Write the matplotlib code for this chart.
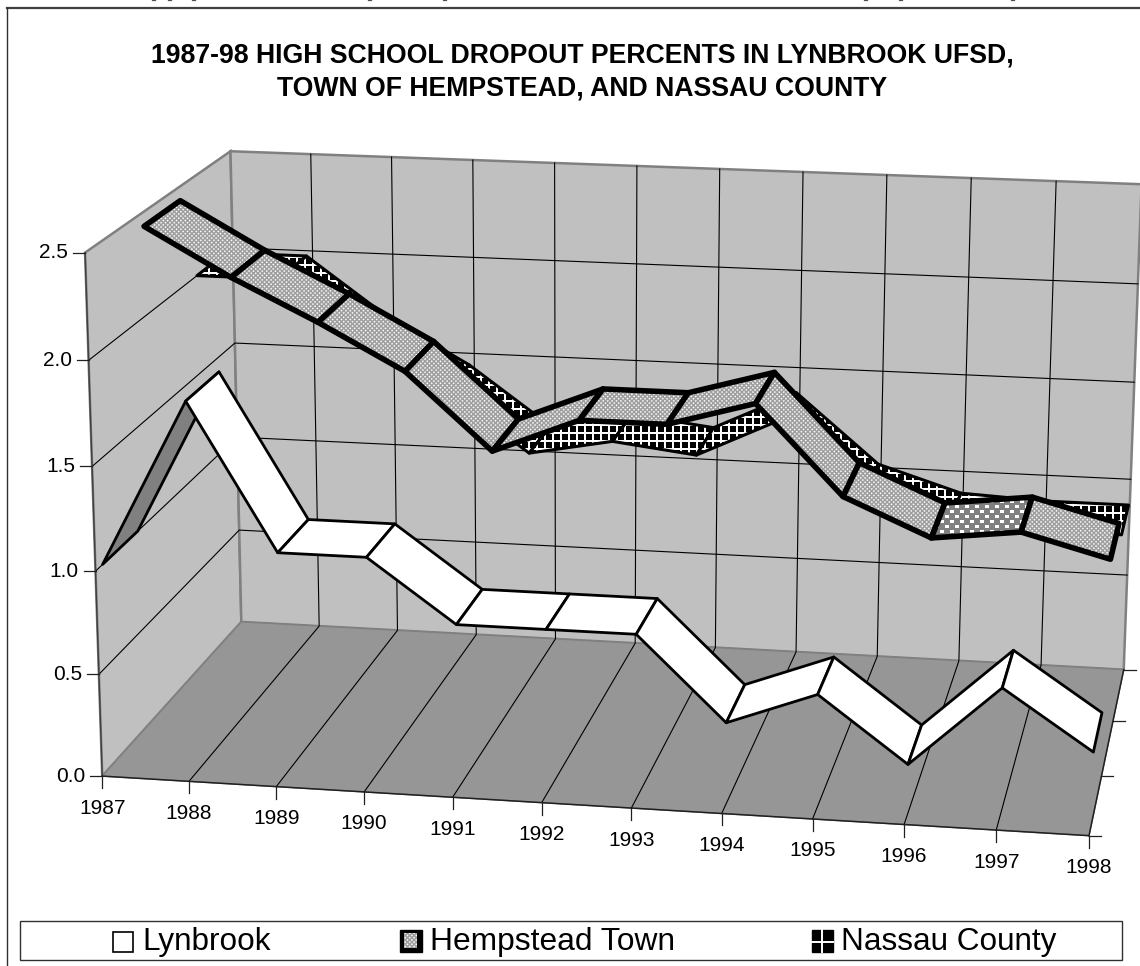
import matplotlib
matplotlib.use("Agg")
import matplotlib.pyplot as plt
import numpy as np
from matplotlib.patches import Polygon, Rectangle

# chart values
YEARS = ["1987", "1988", "1989", "1990", "1991", "1992", "1993", "1994", "1995", "1996", "1997", "1998"]
LYNBROOK = [1.0, 1.8, 1.1, 1.1, 0.8, 0.8, 0.8, 0.4, 0.56, 0.25, 0.64, 0.36]
HEMPSTEAD = [2.43, 2.2, 2.0, 1.78, 1.41, 1.58, 1.58, 1.7, 1.27, 1.09, 1.14, 1.03]
NASSAU = [2.0, 2.0, 1.7, 1.47, 1.17, 1.25, 1.2, 1.4, 1.05, 0.92, 0.9, 0.9]
VALUE_TICKS = [0.0, 0.5, 1.0, 1.5, 2.0, 2.5]
TITLE = "1987-98 HIGH SCHOOL DROPOUT PERCENTS IN LYNBROOK UFSD,\nTOWN OF HEMPSTEAD, AND NASSAU COUNTY"
# tails of the line of text cut off above the chart
CUT_TAILS = [153, 169, 193, 369, 444, 865, 900, 1012]

W, H = 1140, 966
FONT = "Liberation Sans"
VMAX = VALUE_TICKS[-1]
UMAX = len(YEARS) - 1

# box corners: (year index, value, depth) -> canvas position
CALIB = [
    ((0, 0, 0), (103, 776)), ((0, VMAX, 0), (85, 252)),
    ((0, 0, 1), (241, 622)), ((0, VMAX, 1), (231, 150)),
    ((UMAX, 0, 0), (1089, 835)), ((UMAX, 0, 1), (1124, 669)),
    ((UMAX, VMAX, 1), (1142, 184)),
    ((5, 0, 0), (541, 804)), ((5, VMAX, 1), (636, 168)),
]


def fit_projection(pairs):
    rows = []
    for (u, v, d), (x, y) in pairs:
        rows.append([u, v, d, 1, 0, 0, 0, 0, -x * u, -x * v, -x * d, -x])
        rows.append([0, 0, 0, 0, u, v, d, 1, -y * u, -y * v, -y * d, -y])
    return np.linalg.svd(np.array(rows, float))[2][-1].reshape(3, 4)


PROJ = fit_projection(CALIB)


def proj(u, v, d):
    p = PROJ @ np.array([u, v, d, 1.0])
    return p[0] / p[2], p[1] / p[2]


def make_textures():
    yy, xx = np.mgrid[0:H, 0:W]
    # staggered soft dots
    dist = np.minimum.reduce([
        np.hypot(((xx + ox) % 4.4) - 2.2, ((yy + oy) % 4.4) - 2.2)
        for ox, oy in [(0, 0), (2.2, 2.2)]
    ])
    dots = np.clip(1.2 - dist / 1.1, 0, 1)
    dotted = 0.62 + 0.38 * dots
    # white squares on mid gray, for the shaded segment
    under = np.where(((xx % 10) < 4) & ((yy % 10) < 3) | (((xx + 5) % 10) < 4) & (((yy + 5) % 10) < 3), 1.0, 0.5)
    # white grid on black
    grid = np.where(((xx % 8) < 2) | ((yy % 8) < 2), 1.0, 0.0)
    return dotted, under, grid


def face(ax, pts, tex, fc, lw, z):
    if tex is not None:
        poly = Polygon(pts, closed=True, fc="none", ec="none", transform=ax.transData)
        ax.add_patch(poly)
        im = ax.imshow(tex, cmap="gray", vmin=0, vmax=1, extent=(0, W, H, 0),
                       interpolation="nearest", zorder=z, aspect="auto")
        im.set_clip_path(poly)
    else:
        ax.add_patch(Polygon(pts, closed=True, fc=fc, ec="none", zorder=z))
    ax.add_patch(Polygon(pts, closed=True, fc="none", ec="black", lw=lw, joinstyle="round", zorder=z + 0.01))


def ribbon(ax, values, d0, d1, tex, shade_tex, fc, shade_fc, shaded, lw, z):
    for i in range(len(values) - 1):
        pts = [proj(i, values[i], d0), proj(i + 1, values[i + 1], d0),
               proj(i + 1, values[i + 1], d1), proj(i, values[i], d1)]
        if i in shaded:
            face(ax, pts, shade_tex, shade_fc, lw, z + i * 0.1)
        else:
            face(ax, pts, tex, fc, lw, z + i * 0.1)


fig = plt.figure(figsize=(W / 100, H / 100), dpi=100)
ax = fig.add_axes([0, 0, 1, 1])
ax.set_xlim(0, W)
ax.set_ylim(H, 0)
ax.axis("off")

dotted, under, grid = make_textures()

# chart area border, open at the bottom
ax.plot([7, W], [8, 8], color="#404040", lw=1.6, zorder=1)
ax.plot([7, 7], [H, 8], color="#303030", lw=1.0, zorder=1)
for x in CUT_TAILS:
    ax.plot([x - 1.5, x + 1.5], [0.3, 0.3], color="#505050", lw=0.9, zorder=1)

# walls and floor
wall = "#C0C0C0"
edge = "#808080"
floor = "#969696"
ax.add_patch(Polygon([proj(0, 0, 0), proj(0, VMAX, 0), proj(0, VMAX, 1), proj(0, 0, 1)], fc=wall, ec=edge, lw=1.8, zorder=2))
ax.add_patch(Polygon([proj(0, 0, 1), proj(0, VMAX, 1), proj(UMAX, VMAX, 1), proj(UMAX, 0, 1)], fc=wall, ec=edge, lw=1.8, zorder=2))
ax.add_patch(Polygon([proj(0, 0, 0), proj(UMAX, 0, 0), proj(UMAX, 0, 1), proj(0, 0, 1)], fc=floor, ec=edge, lw=1.0, zorder=2))

# grid lines
for v in VALUE_TICKS[1:-1]:
    xs, ys = zip(proj(0, v, 0), proj(0, v, 1), proj(UMAX, v, 1))
    ax.plot(xs, ys, color="black", lw=0.8, zorder=3)
for i in range(1, UMAX):
    xs, ys = zip(proj(i, 0, 0), proj(i, 0, 1), proj(i, VMAX, 1))
    ax.plot(xs, ys, color="black", lw=0.8, zorder=3)

# axis lines and tick marks
axis_c = "#202020"
xs, ys = zip(proj(0, 0, 0), proj(0, VMAX, 0))
ax.plot(xs, ys, color="#404040", lw=1.0, zorder=3)
xs, ys = zip(proj(0, 0, 0), proj(UMAX, 0, 0))
ax.plot(xs, ys, color=axis_c, lw=1.1, zorder=3)
xs, ys = zip(proj(UMAX, 0, 0), proj(UMAX, 0, 1))
ax.plot(xs, ys, color=axis_c, lw=1.1, zorder=3)
for v in VALUE_TICKS:
    x, y = proj(0, v, 0)
    ax.plot([x - 12, x], [y, y], color=axis_c, lw=0.9, zorder=3)
    ax.text(x - 17, y, f"{v:.1f}", ha="right", va="center", fontsize=15, family=FONT, zorder=5)
for d in (0, 1 / 3, 2 / 3, 1):
    x, y = proj(UMAX, 0, d)
    ax.plot([x, x + 12], [y, y], color=axis_c, lw=0.9, zorder=3)
for i, name in enumerate(YEARS):
    x, y = proj(i, 0, 0)
    ax.plot([x, x], [y, y + 12], color=axis_c, lw=0.9, zorder=3)
    ax.text(x, y + 32, name, ha="center", va="center", fontsize=15, family=FONT, zorder=5)

# series, far to near
ribbon(ax, NASSAU, 0.73, 0.95, grid, grid, None, None, (), 2.2, 10)
ribbon(ax, HEMPSTEAD, 0.375, 0.625, dotted, under, None, None, (9,), 4.0, 20)
ribbon(ax, LYNBROOK, 0.045, 0.275, None, None, "white", edge, (0,), 2.0, 30)

ax.text(582, 72, TITLE, ha="center", va="center", fontsize=19.2, fontweight="bold",
        family=FONT, linespacing=1.36, zorder=5)

# legend
ax.add_patch(Rectangle((20, 921), 1102, 39, fc="white", ec="#303030", lw=1.0, zorder=6))
ax.add_patch(Rectangle((113, 932), 20, 20, fc="white", ec="black", lw=1.2, zorder=7))
ax.add_patch(Rectangle((400, 930), 22, 22, fc="black", ec="black", lw=1.0, zorder=7))
key = Rectangle((404, 933), 13, 15, fc="none", ec="none")
ax.add_patch(key)
key_im = ax.imshow(dotted, cmap="gray", vmin=0, vmax=1, extent=(0, W, H, 0),
                   interpolation="nearest", zorder=8, aspect="auto")
key_im.set_clip_path(key)
ax.add_patch(Rectangle((812, 930), 21, 22, fc="black", ec="black", lw=1.0, zorder=7))
ax.plot([812, 833], [942, 942], color="white", lw=1.4, zorder=8)
ax.plot([822, 822], [930, 952], color="white", lw=1.4, zorder=8)
ax.text(142, 942, "Lynbrook", ha="left", va="center", fontsize=22.7, family=FONT, zorder=7)
ax.text(430, 942, "Hempstead Town", ha="left", va="center", fontsize=22.9, family=FONT, zorder=7)
ax.text(841, 942, "Nassau County", ha="left", va="center", fontsize=22.7, family=FONT, zorder=7)

fig.savefig("out.png", dpi=100)
